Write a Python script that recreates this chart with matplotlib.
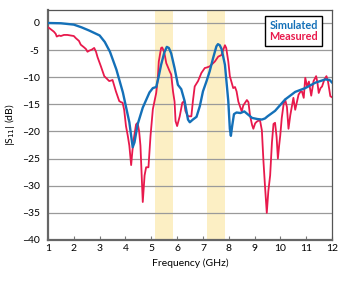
import matplotlib
matplotlib.use('Agg')
import matplotlib.pyplot as plt

plt.rcParams.update({
    'font.family': ['Lato', 'DejaVu Sans'],
    'font.size': 7.5,
})

# Simulated |S11| (blue)
sim_f = [1.0, 1.5, 2.0, 2.3, 2.6, 3.0, 3.2, 3.4, 3.65, 3.9, 4.15, 4.28, 4.35, 4.47, 4.67,
         4.93, 5.06, 5.19, 5.28, 5.38, 5.5, 5.6, 5.68, 5.77, 5.9, 6.03, 6.16, 6.29, 6.42,
         6.49, 6.61, 6.75, 6.88, 7.0, 7.14, 7.26, 7.39, 7.52, 7.58, 7.65, 7.72, 7.85, 7.98,
         8.04, 8.08, 8.13, 8.2, 8.3, 8.45, 8.6, 8.75, 8.9, 9.1, 9.28, 9.4, 9.5, 9.79, 10.18,
         10.57, 10.96, 11.35, 11.74, 11.9, 12.0]
sim_s = [0.0, -0.05, -0.3, -0.8, -1.4, -2.3, -3.5, -5.3, -8.6, -12.8, -18.3, -22.9, -22.0,
         -18.7, -15.6, -12.8, -12.0, -11.8, -10.0, -7.7, -5.5, -4.4, -4.6, -5.6, -8.3, -11.4,
         -12.2, -14.4, -17.8, -18.3, -17.8, -17.3, -15.3, -12.6, -10.7, -8.9, -6.5, -4.3,
         -3.9, -4.1, -4.8, -7.7, -14.4, -19.5, -20.8, -19.0, -16.8, -16.5, -16.6, -16.3,
         -16.9, -17.5, -17.7, -17.8, -17.6, -17.2, -16.2, -14.1, -12.7, -12.0, -11.0, -10.4,
         -10.5, -11.0]

# Measured |S11| (red)
meas_f = [1.0, 1.04, 1.15, 1.23, 1.3, 1.34, 1.43, 1.5, 1.62, 1.75, 1.88, 2.0, 2.08, 2.2,
          2.27, 2.4, 2.47, 2.53, 2.6, 2.7, 2.79, 2.86, 2.92, 3.05, 3.18, 3.31, 3.37, 3.45,
          3.5, 3.56, 3.63, 3.76, 3.83, 3.89, 3.95, 4.02, 4.09, 4.15, 4.22, 4.27, 4.32, 4.41,
          4.47, 4.53, 4.58, 4.67, 4.74, 4.8, 4.89, 4.97, 5.06, 5.12, 5.19, 5.25, 5.29, 5.38,
          5.42, 5.46, 5.51, 5.58, 5.71, 5.77, 5.84, 5.9, 5.94, 6.0, 6.1, 6.2, 6.27, 6.32,
          6.42, 6.55, 6.61, 6.68, 6.81, 6.94, 7.07, 7.15, 7.26, 7.35, 7.46, 7.59, 7.72, 7.78,
          7.85, 7.9, 7.98, 8.04, 8.1, 8.17, 8.24, 8.3, 8.37, 8.44, 8.5, 8.56, 8.63, 8.7,
          8.76, 8.82, 8.9, 8.95, 9.02, 9.08, 9.15, 9.21, 9.28, 9.34, 9.4, 9.47, 9.53, 9.6,
          9.67, 9.73, 9.79, 9.85, 9.9, 9.95, 9.99, 10.05, 10.12, 10.18, 10.25, 10.31, 10.38,
          10.44, 10.5, 10.57, 10.64, 10.7, 10.77, 10.83, 10.9, 10.96, 11.03, 11.1, 11.19,
          11.28, 11.38, 11.43, 11.48, 11.55, 11.61, 11.7, 11.78, 11.84, 11.87, 11.93, 12.0]
meas_s = [-0.8, -0.9, -1.3, -1.6, -2.0, -2.5, -2.3, -2.4, -2.2, -2.2, -2.3, -2.4, -2.8, -3.3,
          -4.0, -4.5, -4.8, -5.3, -5.1, -4.9, -4.6, -5.3, -6.3, -8.0, -9.8, -10.4, -10.7,
          -10.6, -10.5, -11.5, -12.6, -14.4, -14.6, -14.7, -16.0, -19.0, -20.8, -22.6, -26.2,
          -23.5, -21.4, -18.7, -18.4, -20.0, -22.6, -33.0, -28.1, -26.6, -26.6, -20.8, -15.9,
          -14.5, -12.9, -10.4, -7.1, -4.6, -4.5, -4.9, -5.6, -7.4, -8.9, -9.5, -12.6, -14.5,
          -18.1, -19.0, -17.2, -14.7, -14.4, -16.2, -17.2, -17.2, -14.4, -11.7, -10.7, -9.2,
          -8.3, -8.2, -8.0, -7.6, -7.1, -6.2, -5.9, -5.0, -4.1, -4.6, -7.1, -9.8, -10.8,
          -12.0, -11.8, -12.6, -14.5, -15.5, -16.3, -15.2, -14.7, -14.2, -14.6, -17.0, -18.8,
          -19.5, -18.5, -18.2, -18.0, -18.0, -19.8, -25.4, -30.0, -35.0, -31.0, -28.1, -22.0,
          -18.6, -18.4, -21.0, -25.0, -22.5, -20.8, -17.5, -15.0, -14.1, -15.5, -19.5, -17.0,
          -15.4, -13.8, -16.0, -14.5, -13.2, -12.7, -12.6, -13.8, -10.1, -11.7, -10.8, -13.4,
          -10.7, -9.8, -11.0, -12.9, -12.0, -11.7, -10.4, -9.8, -10.8, -11.7, -13.5, -13.7]

# Highlighted bands (GHz)
bands = [(5.15, 5.85), (7.15, 7.85)]

xticks = [1, 2, 3, 4, 5, 6, 7, 8, 9, 10, 11, 12]
yticks = [-40, -35, -30, -25, -20, -15, -10, -5, 0]
ytick_labels = ['\u201340', '\u201335', '\u201330', '\u201325', '\u201320', '\u201315',
                '\u201310', '-5', '0']

fig = plt.figure(figsize=(3.5, 2.85), dpi=100)
ax = fig.add_axes([0.137, 0.158, 0.812, 0.807])

for lo, hi in bands:
    ax.axvspan(lo, hi, color='#fcefc4', lw=0, zorder=0)

for y in yticks[1:]:
    ax.axhline(y, color='#9a9a9a', lw=0.9, zorder=1)

ax.plot(meas_f, meas_s, color='#e8194c', lw=1.3, zorder=3, label='Measured')
ax.plot(sim_f, sim_s, color='#1470b8', lw=1.7, zorder=4, label='Simulated')

ax.set_xlim(1, 12)
ax.set_ylim(-40, 2.4)
ax.set_xticks(xticks)
ax.set_yticks(yticks)
ax.set_yticklabels(ytick_labels)
ax.tick_params(axis='x', direction='in', length=3, width=0.8, color='#777777', pad=3)
ax.tick_params(axis='y', length=0, pad=6)

for side in ['left', 'bottom']:
    ax.spines[side].set_color('#666666')
    ax.spines[side].set_linewidth(1.6)
for side in ['top', 'right']:
    ax.spines[side].set_color('#555555')
    ax.spines[side].set_linewidth(0.9)

ax.set_xlabel('Frequency (GHz)', labelpad=4)
ax.set_ylabel('|S$_{11}$| (dB)', labelpad=3)

h, l = ax.get_legend_handles_labels()
leg = ax.legend(h[::-1], l[::-1], loc='upper right', bbox_to_anchor=(0.963, 0.975),
                borderaxespad=0, handlelength=0, handletextpad=0, fancybox=False,
                framealpha=1, edgecolor='black', borderpad=0.35, labelspacing=0.05,
                prop={'weight': 'bold', 'size': 7.8})
leg.get_frame().set_linewidth(1.0)
for txt, c in zip(leg.get_texts(), ['#1470b8', '#e8194c']):
    txt.set_color(c)
for hd in leg.legend_handles:
    hd.set_visible(False)

fig.savefig('out.png', dpi=100)
